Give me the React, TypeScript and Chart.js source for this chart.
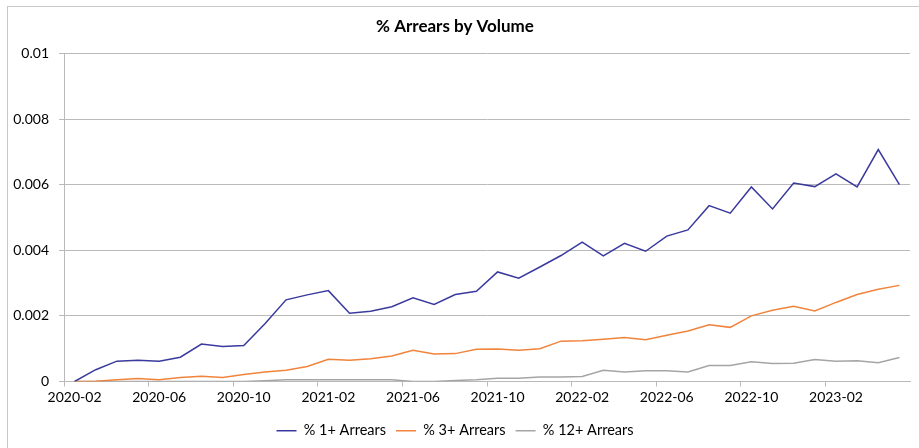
import React, { useEffect, useRef } from "react";
import { Chart, registerables } from "chart.js";

Chart.register(...registerables);

const categories: string[] = [
  "2020-02", "2020-03", "2020-04", "2020-05", "2020-06", "2020-07", "2020-08", "2020-09",
  "2020-10", "2020-11", "2020-12", "2021-01", "2021-02", "2021-03", "2021-04", "2021-05",
  "2021-06", "2021-07", "2021-08", "2021-09", "2021-10", "2021-11", "2021-12", "2022-01",
  "2022-02", "2022-03", "2022-04", "2022-05", "2022-06", "2022-07", "2022-08", "2022-09",
  "2022-10", "2022-11", "2022-12", "2023-01", "2023-02", "2023-03", "2023-04", "2023-05",
];

const arrears1: number[] = [
  0, 0.00036, 0.00062, 0.00065, 0.00062, 0.00074, 0.00114, 0.00107,
  0.0011, 0.00176, 0.00249, 0.00264, 0.00277, 0.00208, 0.00214, 0.00228,
  0.00255, 0.00235, 0.00265, 0.00275, 0.00334, 0.00315, 0.00349, 0.00384,
  0.00425, 0.00383, 0.00421, 0.00397, 0.00443, 0.00462, 0.00536, 0.00513,
  0.00593, 0.00526, 0.00605, 0.00594, 0.00633, 0.00593, 0.00707, 0.006,
];

const arrears3: number[] = [
  0, 0.00001, 0.00005, 0.00009, 0.00005, 0.00012, 0.00016, 0.00012,
  0.00021, 0.00029, 0.00034, 0.00046, 0.00068, 0.00065, 0.00069, 0.00078,
  0.00095, 0.00084, 0.00085, 0.00098, 0.00099, 0.00095, 0.001, 0.00123,
  0.00124, 0.00129, 0.00134, 0.00127, 0.00141, 0.00154, 0.00173, 0.00165,
  0.002, 0.00217, 0.00229, 0.00215, 0.00241, 0.00265, 0.00281, 0.00293,
];

const arrears12: number[] = [
  0, 0, 0, 0, 0, 0, 0, 0,
  0, 0.00002, 0.00005, 0.00005, 0.00005, 0.00005, 0.00005, 0.00005,
  0, 0, 0.00003, 0.00005, 0.0001, 0.0001, 0.00014, 0.00014,
  0.00015, 0.00034, 0.00029, 0.00033, 0.00033, 0.00029, 0.00049, 0.00049,
  0.0006, 0.00055, 0.00056, 0.00067, 0.00062, 0.00063, 0.00057, 0.00073,
];

const seriesNames: string[] = ["% 1+ Arrears", "% 3+ Arrears", "% 12+ Arrears"];
const seriesColors: string[] = ["#3a3a9e", "#f0843c", "#a5a5a5"];
const yTickValues: number[] = [0, 0.002, 0.004, 0.006, 0.008, 0.01];

const FONT = "Lato, 'Open Sans', sans-serif";
const GRID = "#bababa";

export default function App() {
  const ref = useRef<HTMLCanvasElement | null>(null);

  useEffect(() => {
    if (!ref.current) return;
    const data = [arrears1, arrears3, arrears12];
    const chart = new Chart(ref.current, {
      type: "line",
      data: {
        labels: categories,
        datasets: data.map((d, i) => ({
          label: seriesNames[i],
          data: d,
          borderColor: seriesColors[i],
          backgroundColor: seriesColors[i],
          borderWidth: 1.5,
          pointRadius: 0,
          pointHoverRadius: 0,
          tension: 0,
          fill: false,
        })),
      },
      options: {
        animation: false,
        responsive: false,
        maintainAspectRatio: false,
        layout: { padding: { left: 0, right: 9, top: 0, bottom: 0 } },
        plugins: {
          title: {
            display: true,
            text: "% Arrears by Volume",
            color: "#000",
            font: { family: FONT, size: 17, weight: "bold" },
            padding: { top: 16, bottom: 17 },
          },
          legend: {
            display: true,
            position: "bottom",
            labels: {
              color: "#000",
              font: { family: FONT, size: 14.5 },
              usePointStyle: true,
              pointStyle: "line",
              pointStyleWidth: 20,
              boxHeight: 14,
              padding: 10,
            },
          },
          tooltip: { enabled: false },
        },
        scales: {
          x: {
            type: "category",
            offset: true,
            afterFit: (scale: any) => {
              scale.height = 32;
            },
            grid: {
              display: true,
              offset: true,
              drawOnChartArea: false,
              drawTicks: true,
              tickLength: 5,
              color: (ctx: any) => (ctx.index % 4 === 0 ? GRID : "rgba(0,0,0,0)"),
            },
            border: { display: true, color: GRID, width: 1 },
            ticks: {
              autoSkip: false,
              maxRotation: 0,
              minRotation: 0,
              padding: 3,
              color: "#000",
              font: { family: FONT, size: 14 },
              callback: (_v: any, i: number) => (i % 4 === 0 ? categories[i] : ""),
            },
          },
          y: {
            min: 0,
            max: 0.01,
            afterFit: (scale: any) => {
              scale.width = 64;
            },
            afterBuildTicks: (scale: any) => {
              scale.ticks = yTickValues.map((v) => ({ value: v }));
            },
            grid: {
              color: GRID,
              lineWidth: 1,
              drawTicks: true,
              tickLength: 5,
            },
            border: { display: true, color: GRID, width: 1 },
            ticks: {
              padding: 10,
              color: "#000",
              font: { family: FONT, size: 14 },
              callback: (v: any) => String(Number(v)),
            },
          },
        },
      },
    });
    return () => chart.destroy();
  }, []);

  return (
    <div
      style={{
        position: "fixed",
        left: 0,
        top: 0,
        width: 919,
        height: 448,
        overflow: "hidden",
        background: "#fff",
      }}
    >
      <div
        style={{
          position: "absolute",
          left: 7,
          top: 6,
          width: 960,
          height: 480,
          border: "1px solid #c8c8c8",
          boxSizing: "border-box",
        }}
      />
      <canvas
        ref={ref}
        width={919}
        height={448}
        style={{ position: "absolute", left: 0, top: 0, width: 919, height: 448 }}
      />
    </div>
  );
}
